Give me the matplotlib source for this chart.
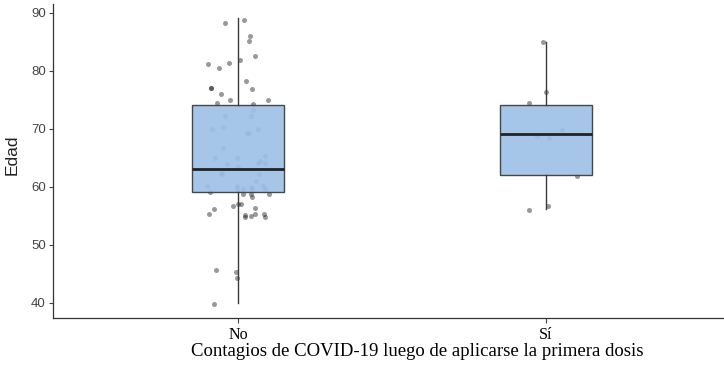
import numpy as np
import matplotlib
matplotlib.use("Agg")
import matplotlib.pyplot as plt

# grupos y estadisticos de las cajas
grupos = ["No", "Sí"]
q1 = [59.0, 62.0]
mediana = [63.0, 69.0]
q3 = [74.0, 74.0]
bigote_inf = [40.0, 56.2]
bigote_sup = [89.0, 85.0]

# puntos (edad) y su desplazamiento horizontal (jitter) por grupo
edad_no = [88.8, 88.3, 85.9, 85.1, 82.5, 81.9, 81.4, 81.1, 80.5, 78.2,
           77.1, 77.0, 76.8, 76.0, 75.0, 75.0, 74.5, 74.3,
           73.2, 72.2, 72.1, 70.3, 69.9, 69.9, 69.3, 69.2, 66.7, 65.3,
           64.9, 64.9, 64.4, 64.1, 64.0, 63.9, 63.4, 62.3, 62.2, 62.2,
           61.0, 60.2, 60.1, 60.2, 59.9, 59.55, 59.55, 59.55, 59.55, 59.0,
           58.8, 58.7, 58.7, 58.3,
           57.0, 57.0, 56.7, 56.4, 56.2, 55.2, 55.2, 55.2, 55.1, 55.0,
           54.8, 54.8, 45.6, 45.2, 44.3, 39.8]
jit_no = [0.019, -0.041, 0.038, 0.034, 0.055, 0.006, -0.029, -0.097, -0.062, 0.026,
          -0.087, -0.087, 0.044, -0.054, -0.027, 0.096, -0.068, 0.049,
          0.047, 0.042, -0.041, -0.050, -0.086, 0.065, 0.036, 0.028, -0.050, 0.088,
          -0.002, -0.075, 0.071, 0.063, 0.086, -0.037, 0.000, -0.057, -0.052, 0.068,
          0.057, -0.100, -0.005, 0.080, 0.041, -0.005, 0.017, 0.045, 0.086, -0.092,
          0.099, 0.015, 0.041, 0.046,
          0.000, 0.009, -0.016, 0.055, -0.078, -0.095, 0.056, 0.084, 0.024, 0.041,
          0.023, 0.087, -0.073, -0.008, -0.005, -0.079]
edad_si = [85.0, 76.3, 74.4, 69.8, 68.7, 68.4, 61.9, 56.7, 55.9]
jit_si = [-0.010, -0.001, -0.055, 0.050, -0.031, 0.009, 0.099, 0.005, -0.054]

fig = plt.figure(figsize=(7.24, 3.73), dpi=100)
ax = fig.add_axes([53.3 / 724, (373 - 318.3) / 373, (724 - 53.3) / 724, 314.3 / 373])

# puntos primero, la caja encima
for i, (ed, jt) in enumerate([(edad_no, jit_no), (edad_si, jit_si)]):
    ax.scatter(np.array(jt) + i + 1, ed, s=13, color="black", alpha=0.4,
               linewidths=0, zorder=1)

stats = []
for i in range(len(grupos)):
    stats.append(dict(q1=q1[i], med=mediana[i], q3=q3[i],
                      whislo=bigote_inf[i], whishi=bigote_sup[i], fliers=[]))

ax.bxp(stats, positions=[1, 2], widths=0.3, patch_artist=True, showcaps=False,
       boxprops=dict(facecolor="#9dc0e8", edgecolor="#3a3a3a", linewidth=1.0, alpha=0.92),
       medianprops=dict(color="#222222", linewidth=2.0),
       whiskerprops=dict(color="#3a3a3a", linewidth=1.0),
       zorder=2)

ax.set_xlim(0.4, 0.4 + 670.7 / 308)
ax.set_ylim(37.3, 91.5)
ax.set_yticks([40, 50, 60, 70, 80, 90])
ax.set_xticks([1, 2])
ax.set_xticklabels(grupos, family="Liberation Serif", fontsize=11.5)
for lab in ax.get_yticklabels():
    lab.set_family("Liberation Sans")
    lab.set_fontsize(9.5)
    lab.set_color("#444444")
ax.tick_params(axis="y", length=3, width=0.8, color="#444444", pad=2.5)
ax.tick_params(axis="x", length=3.5, width=0.8, color="#444444", pad=3)

for s in ["top", "right"]:
    ax.spines[s].set_visible(False)
for s in ["left", "bottom"]:
    ax.spines[s].set_color("#333333")
    ax.spines[s].set_linewidth(0.9)

ax.set_ylabel("Edad", family="Liberation Sans", fontsize=12.5, color="#222222")
ax.yaxis.set_label_coords(-0.05, 0.52)
fig.text(417.5 / 724, 1 - 352 / 373, "Contagios de COVID-19 luego de aplicarse la primera dosis",
         family="Liberation Serif", fontsize=13.5, ha="center", va="center")

fig.savefig("out.png", dpi=100)
